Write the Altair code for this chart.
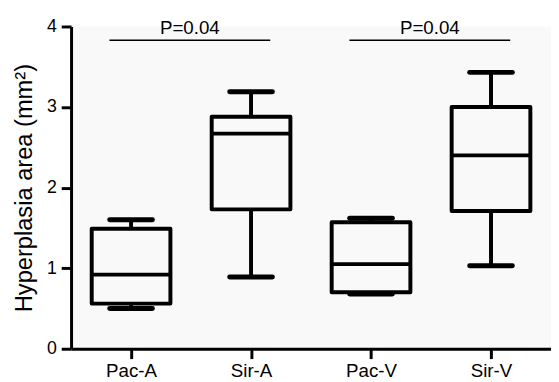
import altair as alt
import pandas as pd

categories = ["Pac-A", "Sir-A", "Pac-V", "Sir-V"]
whisker_low = [0.50, 0.89, 0.68, 1.03]
q1 = [0.56, 1.73, 0.70, 1.71]
median = [0.92, 2.67, 1.05, 2.40]
q3 = [1.49, 2.88, 1.57, 3.00]
whisker_high = [1.60, 3.19, 1.62, 3.43]

comparisons = [("Pac-A", "Sir-A"), ("Pac-V", "Sir-V")]
p_labels = ["P=0.04", "P=0.04"]
bracket_level = [3.83, 3.83]

FONT = "Liberation Sans"

boxes = pd.DataFrame({
    "cat": categories,
    "idx": [i + 1 for i in range(len(categories))],
    "lo": whisker_low, "q1": q1, "med": median, "q3": q3, "hi": whisker_high,
})

sig = pd.DataFrame({
    "a": [categories.index(a) + 1 for a, b in comparisons],
    "b": [categories.index(b) + 1 for a, b in comparisons],
    "label": p_labels,
    "level": bracket_level,
})

xscale = alt.Scale(domain=[0.5, 4.5], nice=False, zero=False)
yscale = alt.Scale(domain=[0, 4], nice=False)

label_expr = "[" + ",".join("'%s'" % c for c in categories) + "][datum.value - 1]"

xaxis = alt.Axis(values=[1, 2, 3, 4], labelExpr=label_expr, title=None, grid=False,
                 domainColor="black", domainWidth=3, tickColor="black", tickWidth=3,
                 tickSize=10, labelFont=FONT, labelFontSize=19, labelColor="black",
                 labelPadding=3)
yaxis = alt.Axis(values=[0, 1, 2, 3, 4], format="d", title="Hyperplasia area (mm²)",
                 grid=False,
                 domainColor="black", domainWidth=3, tickColor="black", tickWidth=3,
                 tickSize=10, labelFont=FONT, labelFontSize=18, labelColor="black",
                 labelPadding=5, titleFont=FONT, titleFontSize=24, titleFontWeight="normal",
                 titleColor="black", titlePadding=10)

base = alt.Chart(boxes).transform_calculate(
    xl="datum.idx - 0.328", xr="datum.idx + 0.328",
    cl="datum.idx - 0.178", cr="datum.idx + 0.178",
)

whisk_lo = base.mark_rule(color="black", strokeWidth=4).encode(
    x=alt.X("idx:Q", scale=xscale, axis=xaxis),
    y=alt.Y("lo:Q", scale=yscale, axis=yaxis),
    y2="q1:Q",
)
whisk_hi = base.mark_rule(color="black", strokeWidth=4).encode(
    x="idx:Q", y="q3:Q", y2="hi:Q",
)
box = base.mark_rect(fill=None, fillOpacity=0, stroke="black", strokeWidth=4,
                     strokeJoin="round").encode(
    x="xl:Q", x2="xr:Q", y="q1:Q", y2="q3:Q",
)
med = base.mark_rule(color="black", strokeWidth=4).encode(
    x="xl:Q", x2="xr:Q", y="med:Q",
)
cap_lo = base.mark_rule(color="black", strokeWidth=5, strokeCap="round").encode(
    x="cl:Q", x2="cr:Q", y="lo:Q",
)
cap_hi = base.mark_rule(color="black", strokeWidth=5, strokeCap="round").encode(
    x="cl:Q", x2="cr:Q", y="hi:Q",
)

sbase = alt.Chart(sig).transform_calculate(
    x1="datum.a - 0.18", x2="datum.b + 0.16", xm="(datum.a + datum.b) / 2 - 0.01",
)
sline = sbase.mark_rule(color="black", strokeWidth=1.5).encode(
    x="x1:Q", x2="x2:Q", y="level:Q",
)
stext = sbase.mark_text(font=FONT, fontSize=19, color="black", baseline="alphabetic",
                        dy=-6).encode(
    x="xm:Q", y="level:Q", text="label:N",
)

chart = alt.layer(whisk_lo, whisk_hi, box, med, cap_lo, cap_hi, sline, stext).properties(
    width=487, height=327,
    autosize=alt.AutoSizeParams(type="none"),
    padding={"left": 64, "top": 16, "right": 0, "bottom": 31},
    background="white",
).configure_view(stroke=None, fill="#f9f9f9")

chart.save("out.html", embed_options={"renderer": "svg", "actions": False})
